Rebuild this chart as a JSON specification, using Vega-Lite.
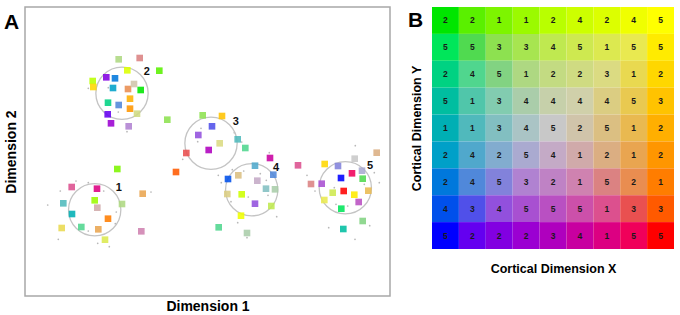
{
  "$schema": "https://vega.github.io/schema/vega-lite/v6.json",
  "padding": {"left": 3, "top": 6, "right": 2, "bottom": 2},
  "background": "white",
  "config": {
    "font": "Liberation Sans",
    "view": {"stroke": "#a8a8a8", "strokeWidth": 1.5},
    "axis": {"labels": false, "ticks": false, "domain": false, "grid": false, "titleFontWeight": "bold", "titleColor": "#000"}
  },
  "datasets": {
    "cells": [
      {"row":1,"col":1,"n":2,"cell":"r1c1"},{"row":1,"col":2,"n":2,"cell":"r1c2"},{"row":1,"col":3,"n":1,"cell":"r1c3"},{"row":1,"col":4,"n":1,"cell":"r1c4"},{"row":1,"col":5,"n":2,"cell":"r1c5"},{"row":1,"col":6,"n":4,"cell":"r1c6"},{"row":1,"col":7,"n":2,"cell":"r1c7"},{"row":1,"col":8,"n":4,"cell":"r1c8"},{"row":1,"col":9,"n":5,"cell":"r1c9"},
      {"row":2,"col":1,"n":5,"cell":"r2c1"},{"row":2,"col":2,"n":5,"cell":"r2c2"},{"row":2,"col":3,"n":3,"cell":"r2c3"},{"row":2,"col":4,"n":3,"cell":"r2c4"},{"row":2,"col":5,"n":4,"cell":"r2c5"},{"row":2,"col":6,"n":5,"cell":"r2c6"},{"row":2,"col":7,"n":1,"cell":"r2c7"},{"row":2,"col":8,"n":5,"cell":"r2c8"},{"row":2,"col":9,"n":5,"cell":"r2c9"},
      {"row":3,"col":1,"n":2,"cell":"r3c1"},{"row":3,"col":2,"n":4,"cell":"r3c2"},{"row":3,"col":3,"n":5,"cell":"r3c3"},{"row":3,"col":4,"n":1,"cell":"r3c4"},{"row":3,"col":5,"n":2,"cell":"r3c5"},{"row":3,"col":6,"n":2,"cell":"r3c6"},{"row":3,"col":7,"n":3,"cell":"r3c7"},{"row":3,"col":8,"n":1,"cell":"r3c8"},{"row":3,"col":9,"n":2,"cell":"r3c9"},
      {"row":4,"col":1,"n":5,"cell":"r4c1"},{"row":4,"col":2,"n":1,"cell":"r4c2"},{"row":4,"col":3,"n":3,"cell":"r4c3"},{"row":4,"col":4,"n":4,"cell":"r4c4"},{"row":4,"col":5,"n":4,"cell":"r4c5"},{"row":4,"col":6,"n":4,"cell":"r4c6"},{"row":4,"col":7,"n":4,"cell":"r4c7"},{"row":4,"col":8,"n":5,"cell":"r4c8"},{"row":4,"col":9,"n":3,"cell":"r4c9"},
      {"row":5,"col":1,"n":1,"cell":"r5c1"},{"row":5,"col":2,"n":1,"cell":"r5c2"},{"row":5,"col":3,"n":3,"cell":"r5c3"},{"row":5,"col":4,"n":4,"cell":"r5c4"},{"row":5,"col":5,"n":5,"cell":"r5c5"},{"row":5,"col":6,"n":2,"cell":"r5c6"},{"row":5,"col":7,"n":5,"cell":"r5c7"},{"row":5,"col":8,"n":1,"cell":"r5c8"},{"row":5,"col":9,"n":2,"cell":"r5c9"},
      {"row":6,"col":1,"n":2,"cell":"r6c1"},{"row":6,"col":2,"n":4,"cell":"r6c2"},{"row":6,"col":3,"n":2,"cell":"r6c3"},{"row":6,"col":4,"n":5,"cell":"r6c4"},{"row":6,"col":5,"n":4,"cell":"r6c5"},{"row":6,"col":6,"n":1,"cell":"r6c6"},{"row":6,"col":7,"n":2,"cell":"r6c7"},{"row":6,"col":8,"n":1,"cell":"r6c8"},{"row":6,"col":9,"n":2,"cell":"r6c9"},
      {"row":7,"col":1,"n":2,"cell":"r7c1"},{"row":7,"col":2,"n":4,"cell":"r7c2"},{"row":7,"col":3,"n":5,"cell":"r7c3"},{"row":7,"col":4,"n":3,"cell":"r7c4"},{"row":7,"col":5,"n":2,"cell":"r7c5"},{"row":7,"col":6,"n":1,"cell":"r7c6"},{"row":7,"col":7,"n":5,"cell":"r7c7"},{"row":7,"col":8,"n":2,"cell":"r7c8"},{"row":7,"col":9,"n":1,"cell":"r7c9"},
      {"row":8,"col":1,"n":4,"cell":"r8c1"},{"row":8,"col":2,"n":3,"cell":"r8c2"},{"row":8,"col":3,"n":4,"cell":"r8c3"},{"row":8,"col":4,"n":5,"cell":"r8c4"},{"row":8,"col":5,"n":5,"cell":"r8c5"},{"row":8,"col":6,"n":5,"cell":"r8c6"},{"row":8,"col":7,"n":1,"cell":"r8c7"},{"row":8,"col":8,"n":3,"cell":"r8c8"},{"row":8,"col":9,"n":3,"cell":"r8c9"},
      {"row":9,"col":1,"n":5,"cell":"r9c1"},{"row":9,"col":2,"n":2,"cell":"r9c2"},{"row":9,"col":3,"n":2,"cell":"r9c3"},{"row":9,"col":4,"n":2,"cell":"r9c4"},{"row":9,"col":5,"n":3,"cell":"r9c5"},{"row":9,"col":6,"n":4,"cell":"r9c6"},{"row":9,"col":7,"n":1,"cell":"r9c7"},{"row":9,"col":8,"n":5,"cell":"r9c8"},{"row":9,"col":9,"n":5,"cell":"r9c9"}
    ],
    "units": [
      {"x":93.7,"y":236.7,"cell":"r3c4"},{"x":114.7,"y":238,"cell":"r7c7"},{"x":102.3,"y":225.7,"cell":"r1c7"},{"x":134.3,"y":225.3,"cell":"r1c2"},
      {"x":81.3,"y":218.7,"cell":"r9c3"},{"x":90,"y":217.7,"cell":"r7c1"},{"x":67.7,"y":215,"cell":"r1c5"},{"x":68.3,"y":209,"cell":"r3c9"},
      {"x":88,"y":208,"cell":"r6c1"},{"x":103,"y":207,"cell":"r7c8"},{"x":109,"y":212,"cell":"r5c6"},{"x":115.7,"y":206,"cell":"r1c1"},
      {"x":105,"y":197.3,"cell":"r5c9"},{"x":83,"y":193.3,"cell":"r3c1"},{"x":93.7,"y":191,"cell":"r7c2"},{"x":105,"y":187.3,"cell":"r6c9"},
      {"x":112,"y":182.3,"cell":"r3c6"},{"x":82.7,"y":181.7,"cell":"r9c2"},{"x":86,"y":172.7,"cell":"r9c4"},{"x":103.7,"y":169.7,"cell":"r7c4"},
      {"x":142.3,"y":176.3,"cell":"r2c3"},{"x":177.7,"y":180.7,"cell":"r2c3"},{"x":197,"y":180,"cell":"r4c9"},{"x":187,"y":169.7,"cell":"r8c2"},
      {"x":173.3,"y":161,"cell":"r8c3"},{"x":194.7,"y":152.7,"cell":"r3c7"},{"x":212.7,"y":156.7,"cell":"r5c2"},{"x":220.3,"y":148,"cell":"r3c2"},
      {"x":183.7,"y":146,"cell":"r9c5"},{"x":161.3,"y":143,"cell":"r8c8"},{"x":151,"y":124,"cell":"r8c9"},{"x":245,"y":138,"cell":"r9c6"},
      {"x":230,"y":130.3,"cell":"r6c2"},{"x":213.3,"y":120.7,"cell":"r5c7"},{"x":203,"y":117,"cell":"r8c1"},{"x":232.3,"y":115.3,"cell":"r6c5"},
      {"x":248.3,"y":121.3,"cell":"r7c2"},{"x":241,"y":107.3,"cell":"r5c3"},{"x":250,"y":106.7,"cell":"r4c4"},{"x":202.3,"y":102,"cell":"r4c7"},
      {"x":216.7,"y":101.7,"cell":"r1c6"},{"x":230,"y":92.3,"cell":"r8c3"},{"x":246.3,"y":90,"cell":"r2c5"},{"x":216,"y":80.3,"cell":"r1c8"},
      {"x":193.7,"y":68.7,"cell":"r3c2"},{"x":222,"y":63,"cell":"r4c4"},{"x":273,"y":130.7,"cell":"r8c7"},{"x":286,"y":112,"cell":"r7c7"},
      {"x":299.7,"y":132,"cell":"r3c9"},{"x":313,"y":130,"cell":"r7c3"},{"x":329.7,"y":137.3,"cell":"r5c5"},{"x":351.7,"y":143.3,"cell":"r6c7"},
      {"x":327,"y":122.7,"cell":"r9c8"},{"x":337,"y":125.3,"cell":"r6c4"},{"x":316,"y":118,"cell":"r9c1"},{"x":337.7,"y":117.3,"cell":"r2c2"},
      {"x":296.7,"y":112.3,"cell":"r8c4"},{"x":318.7,"y":105,"cell":"r9c9"},{"x":307.7,"y":103.3,"cell":"r2c6"},{"x":329.3,"y":101.3,"cell":"r2c9"},
      {"x":343.3,"y":105.3,"cell":"r5c8"},{"x":299.3,"y":96,"cell":"r2c8"},{"x":333.7,"y":94,"cell":"r8c5"},{"x":316.3,"y":87.3,"cell":"r2c1"},
      {"x":337.7,"y":75,"cell":"r3c3"},{"x":318.3,"y":67,"cell":"r4c1"},{"x":92.3,"y":127,"cell":"r1c3"},{"x":46.7,"y":109,"cell":"r8c7"},
      {"x":72,"y":107.3,"cell":"r9c7"},{"x":117.7,"y":102.3,"cell":"r6c8"},{"x":69.7,"y":95.7,"cell":"r1c4"},{"x":38.3,"y":92.7,"cell":"r5c2"},
      {"x":97,"y":92,"cell":"r3c4"},{"x":72.3,"y":88.3,"cell":"r6c6"},{"x":47,"y":82,"cell":"r5c1"},{"x":83,"y":77.3,"cell":"r7c9"},
      {"x":36.7,"y":68,"cell":"r3c8"},{"x":56.3,"y":69,"cell":"r3c2"},{"x":73.3,"y":66.7,"cell":"r6c8"},{"x":116.3,"y":64.7,"cell":"r7c6"},
      {"x":80,"y":56.3,"cell":"r2c7"}
    ],
    "rings": [
      {"x":69.7,"y":86.3,"cluster":"1"},{"x":97,"y":202.7,"cluster":"2"},{"x":186,"y":152.7,"cluster":"3"},{"x":226.7,"y":106.3,"cluster":"4"},{"x":320.3,"y":108.3,"cluster":"5"}
    ],
    "labels": [
      {"x":93.7,"y":108.3,"label":"1"},{"x":121.7,"y":223.7,"label":"2"},{"x":210.7,"y":174.3,"label":"3"},{"x":251,"y":127.7,"label":"4"},{"x":345,"y":129.7,"label":"5"}
    ],
    "dots": [
      {"x":63.3,"y":207.7},{"x":83.3,"y":208.3},{"x":93.3,"y":184},{"x":102,"y":164.3},{"x":176,"y":167.7},{"x":172.7,"y":154.3},
      {"x":157.7,"y":136.7},{"x":193.3,"y":120.7},{"x":216.7,"y":154},{"x":209.3,"y":163.3},{"x":207.3,"y":126.3},{"x":218.7,"y":125},
      {"x":235.3,"y":122.3},{"x":241.3,"y":115.7},{"x":243,"y":100.7},{"x":206,"y":94.3},{"x":223.3,"y":99},{"x":251.7,"y":79.3},
      {"x":244.3,"y":143.3},{"x":212.7,"y":73.3},{"x":222,"y":58.3},{"x":196.3,"y":113.3},{"x":282,"y":120.7},{"x":290,"y":105},
      {"x":303.7,"y":68.3},{"x":330,"y":56.7},{"x":344.7,"y":70.3},{"x":354.3,"y":113.3},{"x":330.3,"y":150.3},{"x":349.3,"y":123.3},
      {"x":311,"y":91.7},{"x":322.7,"y":90},{"x":309.3,"y":108.3},{"x":339.3,"y":111.7},{"x":22.7,"y":91},{"x":35.3,"y":105},
      {"x":51,"y":115},{"x":63.3,"y":113.3},{"x":78.7,"y":105},{"x":33.3,"y":56.7},{"x":72.7,"y":52.7},{"x":84.3,"y":49.3},
      {"x":126,"y":104},{"x":91.3,"y":84},{"x":90.3,"y":72.3},{"x":63.3,"y":65}
    ]
  },
  "spacing": 17,
  "resolve": {"scale": {"color": "independent"}},
  "hconcat": [
    {
      "width": 365,
      "height": 289,
      "resolve": {"scale": {"x": "independent", "y": "independent"}, "axis": {"x": "independent", "y": "independent"}},
      "layer": [
        {
          "encoding": {
            "x": {"field": "x", "type": "quantitative", "scale": {"domain": [0, 365], "nice": false, "zero": false}, "axis": {"title": "Dimension 1", "titleFontSize": 14, "titlePadding": 3}},
            "y": {"field": "y", "type": "quantitative", "scale": {"domain": [0, 289], "nice": false, "zero": false}, "axis": {"title": "Dimension 2", "titleFontSize": 14, "titlePadding": 7}}
          },
          "layer": [
            {"data": {"name": "dots"}, "mark": {"type": "point", "shape": "circle", "filled": true, "size": 3, "color": "#b8b8b8", "opacity": 1}},
            {"data": {"name": "rings"}, "mark": {"type": "point", "shape": "circle", "filled": false, "size": 2734, "color": "#c4c4c4", "strokeWidth": 1.3, "opacity": 1}},
            {"data": {"name": "units"}, "mark": {"type": "point", "shape": "square", "filled": true, "size": 44, "opacity": 0.88},
              "encoding": {"color": {"field": "cell", "type": "nominal", "legend": null, "scale": {
                "domain": ["r1c1","r1c2","r1c3","r1c4","r1c5","r1c6","r1c7","r1c8","r1c9","r2c1","r2c2","r2c3","r2c4","r2c5","r2c6","r2c7","r2c8","r2c9","r3c1","r3c2","r3c3","r3c4","r3c5","r3c6","r3c7","r3c8","r3c9","r4c1","r4c2","r4c3","r4c4","r4c5","r4c6","r4c7","r4c8","r4c9","r5c1","r5c2","r5c3","r5c4","r5c5","r5c6","r5c7","r5c8","r5c9","r6c1","r6c2","r6c3","r6c4","r6c5","r6c6","r6c7","r6c8","r6c9","r7c1","r7c2","r7c3","r7c4","r7c5","r7c6","r7c7","r7c8","r7c9","r8c1","r8c2","r8c3","r8c4","r8c5","r8c6","r8c7","r8c8","r8c9","r9c1","r9c2","r9c3","r9c4","r9c5","r9c6","r9c7","r9c8","r9c9"],
                "range": ["#00E600","#5AF000","#7DF500","#9BFA00","#B9FF00","#CDFF00","#DCFF00","#F0FF00","#FFFF00",
                          "#00E65A","#50DA50","#8DE150","#A7E550","#BFE950","#CEE950","#DCE950","#E9E950","#FFEB00",
                          "#00D282","#50D68E","#82D382","#AED882","#C3DB82","#CFDB82","#DBDB82","#E9D950","#FFD700",
                          "#00BEA0","#50C6AA","#82CCB0","#AACDAA","#C6D0AA","#D0D0AA","#DBCD82","#E9C950","#FFC300",
                          "#00AFB4","#50B9BC","#82BFC1","#AAC4C5","#C8C8C8","#D0C4AA","#DBBF82","#E9B950","#FFAF00",
                          "#00A0C8","#50A8CC","#82ACCF","#AAAAD0","#C4AAC6","#D0AAAA","#DBAE82","#E9A550","#FF9600",
                          "#0078DC","#5088DA","#8282DB","#B082D1","#BF82C5","#CF82B0","#DB8282","#E98D50","#FF7D00",
                          "#0050EB","#5050E9","#9250DD","#A850D1","#B950C2","#CC50AA","#DC508E","#E95050","#FF5A00",
                          "#0000FF","#6400F0","#8200E1","#9B00D2","#AF00BE","#C800A0","#DC0082","#F0005A","#FF0000"]}}}},
            {"data": {"name": "labels"}, "mark": {"type": "text", "fontSize": 11, "fontWeight": "bold", "color": "#111"},
              "encoding": {"text": {"field": "label", "type": "nominal"}}}
          ]
        },
        {"data": {"values": [{"panel": "A"}]}, "mark": {"type": "text", "fontSize": 21, "fontWeight": "bold", "color": "#000", "align": "left", "baseline": "top"},
          "encoding": {
            "text": {"field": "panel", "type": "nominal"},
            "x": {"datum": -21, "type": "quantitative", "scale": {"domain": [0, 365], "nice": false, "zero": false}, "axis": null},
            "y": {"datum": 5, "type": "quantitative", "scale": {"domain": [0, 289], "nice": false, "zero": false, "reverse": true}, "axis": null}}}
      ]
    },
    {
      "width": 242,
      "height": 242,
      "view": {"stroke": null},
      "resolve": {"scale": {"x": "independent", "y": "independent"}, "axis": {"x": "independent", "y": "independent"}},
      "layer": [
        {
          "data": {"name": "cells"},
          "encoding": {
            "x": {"field": "col", "type": "ordinal", "axis": {"title": "Cortical Dimension X", "titleFontSize": 12.5, "titlePadding": 13}},
            "y": {"field": "row", "type": "ordinal", "axis": {"title": "Cortical Dimension Y", "titleFontSize": 12.5, "titlePadding": 9}}
          },
          "layer": [
            {"mark": {"type": "rect"},
              "encoding": {
                "color": {"field": "cell", "type": "nominal", "legend": null, "scale": {
                "domain": ["r1c1","r1c2","r1c3","r1c4","r1c5","r1c6","r1c7","r1c8","r1c9","r2c1","r2c2","r2c3","r2c4","r2c5","r2c6","r2c7","r2c8","r2c9","r3c1","r3c2","r3c3","r3c4","r3c5","r3c6","r3c7","r3c8","r3c9","r4c1","r4c2","r4c3","r4c4","r4c5","r4c6","r4c7","r4c8","r4c9","r5c1","r5c2","r5c3","r5c4","r5c5","r5c6","r5c7","r5c8","r5c9","r6c1","r6c2","r6c3","r6c4","r6c5","r6c6","r6c7","r6c8","r6c9","r7c1","r7c2","r7c3","r7c4","r7c5","r7c6","r7c7","r7c8","r7c9","r8c1","r8c2","r8c3","r8c4","r8c5","r8c6","r8c7","r8c8","r8c9","r9c1","r9c2","r9c3","r9c4","r9c5","r9c6","r9c7","r9c8","r9c9"],
                "range": ["#00E600","#5AF000","#7DF500","#9BFA00","#B9FF00","#CDFF00","#DCFF00","#F0FF00","#FFFF00",
                          "#00E65A","#50DA50","#8DE150","#A7E550","#BFE950","#CEE950","#DCE950","#E9E950","#FFEB00",
                          "#00D282","#50D68E","#82D382","#AED882","#C3DB82","#CFDB82","#DBDB82","#E9D950","#FFD700",
                          "#00BEA0","#50C6AA","#82CCB0","#AACDAA","#C6D0AA","#D0D0AA","#DBCD82","#E9C950","#FFC300",
                          "#00AFB4","#50B9BC","#82BFC1","#AAC4C5","#C8C8C8","#D0C4AA","#DBBF82","#E9B950","#FFAF00",
                          "#00A0C8","#50A8CC","#82ACCF","#AAAAD0","#C4AAC6","#D0AAAA","#DBAE82","#E9A550","#FF9600",
                          "#0078DC","#5088DA","#8282DB","#B082D1","#BF82C5","#CF82B0","#DB8282","#E98D50","#FF7D00",
                          "#0050EB","#5050E9","#9250DD","#A850D1","#B950C2","#CC50AA","#DC508E","#E95050","#FF5A00",
                          "#0000FF","#6400F0","#8200E1","#9B00D2","#AF00BE","#C800A0","#DC0082","#F0005A","#FF0000"]}}}},
            {"mark": {"type": "text", "fontSize": 8.5, "fontWeight": "bold", "color": "#1a1a1a"},
              "encoding": {"text": {"field": "n", "type": "quantitative"}}}
          ]
        },
        {"data": {"values": [{"panel": "B"}]}, "mark": {"type": "text", "fontSize": 21, "fontWeight": "bold", "color": "#000", "align": "left", "baseline": "top"},
          "encoding": {
            "text": {"field": "panel", "type": "nominal"},
            "x": {"datum": -24, "type": "quantitative", "scale": {"domain": [0, 242], "nice": false, "zero": false}, "axis": null},
            "y": {"datum": 3, "type": "quantitative", "scale": {"domain": [0, 242], "nice": false, "zero": false, "reverse": true}, "axis": null}}}
      ]
    }
  ]
}
